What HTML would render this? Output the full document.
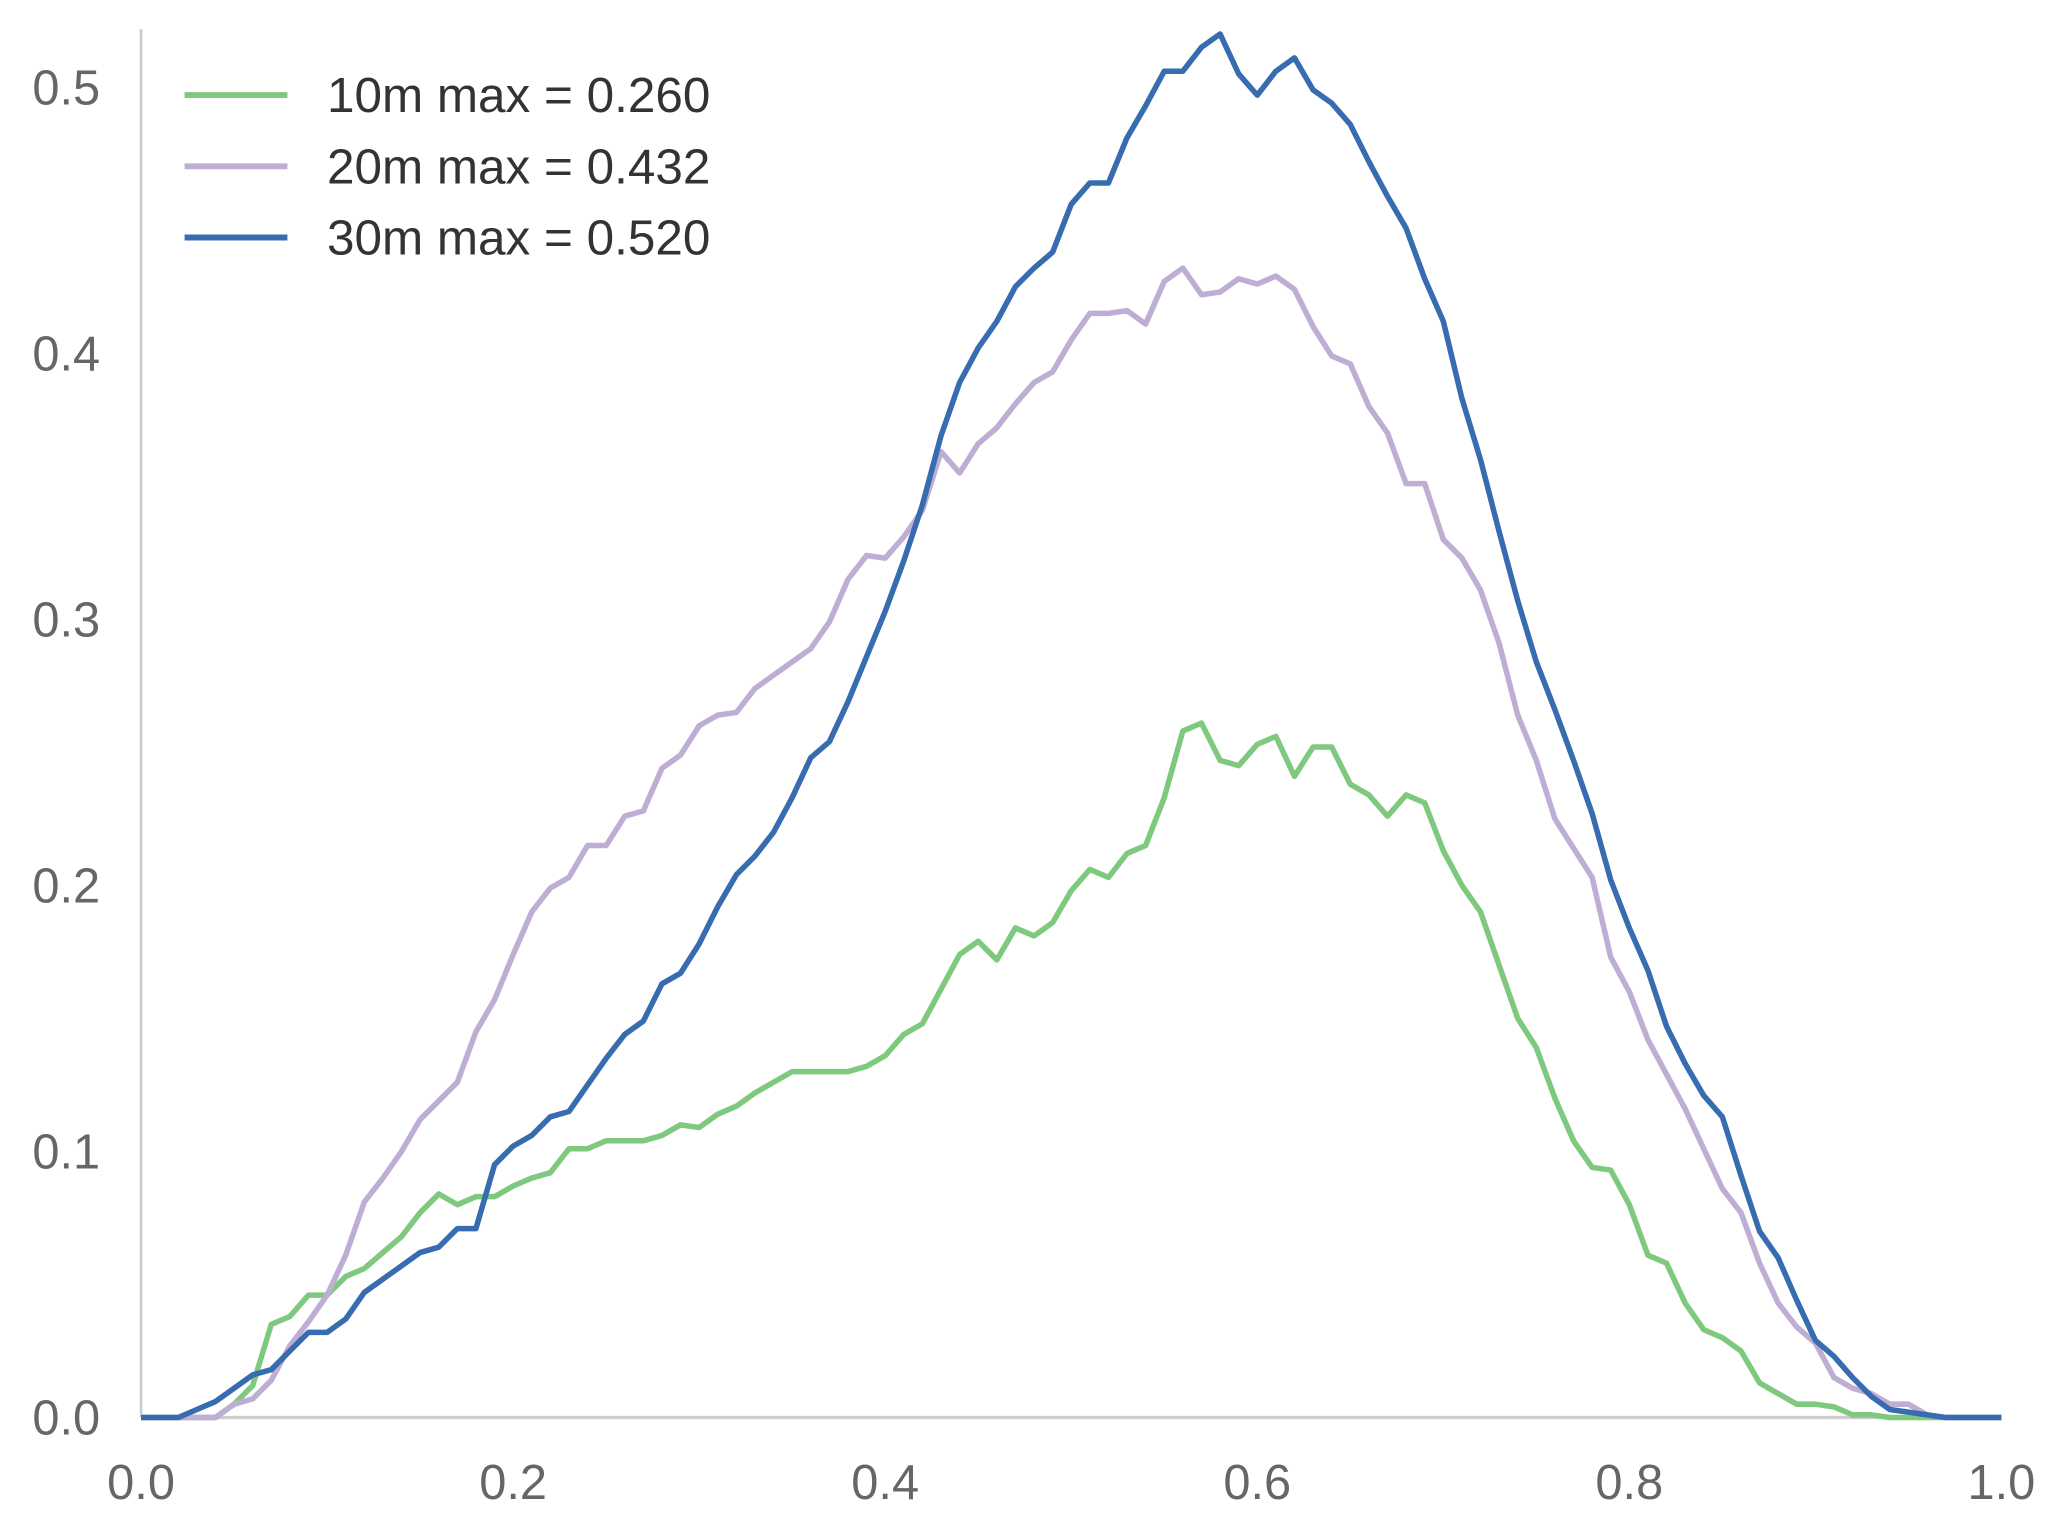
<!DOCTYPE html>
<html><head><meta charset="utf-8"><style>
html,body{margin:0;padding:0;background:#fff;}
svg{display:block;font-family:"Liberation Sans",sans-serif;}
</style></head><body>
<svg id="chart" width="2066" height="1535" viewBox="0 0 1567 1164" xmlns="http://www.w3.org/2000/svg">
<rect width="1567" height="1164" fill="#fff"/>
<g id="axes"></g>
<g id="lines"></g>
<g id="legend"></g>
</svg>
<script>
const xTicks = [0.0, 0.2, 0.4, 0.6, 0.8, 1.0];
const yTicks = [0.0, 0.1, 0.2, 0.3, 0.4, 0.5];
const seriesNames = ["10m max = 0.260", "20m max = 0.432", "30m max = 0.520"];
const seriesColors = ["#7fc97f", "#beaed4", "#386cb0"];
const green10m = [0,0,0,0,0,0.005,0.012,0.035,0.038,0.046,0.046,0.053,0.056,0.062,0.068,0.077,0.084,0.080,0.083,0.083,0.087,0.090,0.092,0.101,0.101,0.104,0.104,0.104,0.106,0.110,0.109,0.114,0.117,0.122,0.126,0.130,0.130,0.130,0.130,0.132,0.136,0.144,0.148,0.161,0.174,0.179,0.172,0.184,0.181,0.186,0.198,0.206,0.203,0.212,0.215,0.233,0.258,0.261,0.247,0.245,0.253,0.256,0.241,0.252,0.252,0.238,0.234,0.226,0.234,0.231,0.213,0.200,0.190,0.170,0.150,0.139,0.120,0.104,0.094,0.093,0.080,0.061,0.058,0.043,0.033,0.030,0.025,0.013,0.009,0.005,0.005,0.004,0.001,0.001,0,0,0,0,0,0,0];
const purple20m = [0,0,0,0,0,0.005,0.007,0.014,0.027,0.036,0.046,0.061,0.081,0.090,0.100,0.112,0.119,0.126,0.145,0.157,0.174,0.190,0.199,0.203,0.215,0.215,0.226,0.228,0.244,0.249,0.260,0.264,0.265,0.274,0.279,0.284,0.289,0.299,0.315,0.324,0.323,0.331,0.341,0.363,0.355,0.366,0.372,0.381,0.389,0.393,0.405,0.415,0.415,0.416,0.411,0.427,0.432,0.422,0.423,0.428,0.426,0.429,0.424,0.410,0.399,0.396,0.380,0.370,0.351,0.351,0.330,0.323,0.311,0.291,0.264,0.247,0.225,0.214,0.203,0.173,0.160,0.142,0.129,0.116,0.101,0.086,0.077,0.058,0.043,0.034,0.028,0.015,0.011,0.009,0.005,0.005,0.001,0,0,0,0];
const blue30m = [0,0,0,0.003,0.006,0.011,0.016,0.018,0.025,0.032,0.032,0.037,0.047,0.052,0.057,0.062,0.064,0.071,0.071,0.095,0.102,0.106,0.113,0.115,0.125,0.135,0.144,0.149,0.163,0.167,0.178,0.192,0.204,0.211,0.220,0.233,0.248,0.254,0.269,0.286,0.303,0.322,0.343,0.369,0.389,0.402,0.412,0.425,0.432,0.438,0.456,0.464,0.464,0.481,0.493,0.506,0.506,0.515,0.520,0.505,0.497,0.506,0.511,0.499,0.494,0.486,0.472,0.459,0.447,0.428,0.412,0.383,0.360,0.333,0.307,0.284,0.266,0.247,0.227,0.202,0.184,0.168,0.147,0.133,0.121,0.113,0.091,0.070,0.060,0.044,0.029,0.023,0.015,0.008,0.003,0.002,0.001,0,0,0,0];

const NS = "http://www.w3.org/2000/svg";
const X0 = 107, X1 = 1518, Y0 = 1075, PXY = 2018;
function xs(v){ return X0 + v * (X1 - X0); }
function ys(v){ return Y0 - v * PXY; }
function mk(tag, attrs, parent){
  const e = document.createElementNS(NS, tag);
  for (const k in attrs) e.setAttribute(k, attrs[k]);
  parent.appendChild(e);
  return e;
}
const axes = document.getElementById('axes');
const ySpine = mk('line', {x1:X0, y1:22, x2:X0, y2:Y0, stroke:'#cccccc', 'stroke-width':2}, axes);


const xSpine = mk('line', {x1:X0, y1:Y0, x2:X1, y2:Y0, stroke:'#cccccc', 'stroke-width':2.5}, axes);


yTicks.forEach(t => {
  const tx = mk('text', {x:76, y:ys(t)+13, 'text-anchor':'end', 'font-size':37, fill:'#666666'}, axes);
  tx.textContent = t.toFixed(1);
  
  
});
xTicks.forEach(t => {
  const tx = mk('text', {x:xs(t), y:1137, 'text-anchor':'middle', 'font-size':37, fill:'#666666'}, axes);
  tx.textContent = t.toFixed(1);
  
  
});
const lines = document.getElementById('lines');
[green10m, purple20m, blue30m].forEach((arr, si) => {
  const n = arr.length;
  const pts = arr.map((v, i) => xs(i / (n - 1)).toFixed(2) + ',' + ys(v).toFixed(2)).join(' ');
  const pl = mk('polyline', {points:pts, fill:'none', stroke:seriesColors[si], 'stroke-width':4.2, 'stroke-linejoin':'round'}, lines);
  
  
});
const legend = document.getElementById('legend');
seriesNames.forEach((name, i) => {
  const y = 72 + i * 54;
  const ln = mk('line', {x1:140, y1:y, x2:218, y2:y, stroke:seriesColors[i], 'stroke-width':4.5}, legend);
  
  
  const tx = mk('text', {x:248, y:y+13, 'font-size':37.5, fill:'#333333'}, legend);
  tx.textContent = name;
  
  
});
</script>
</body></html>
